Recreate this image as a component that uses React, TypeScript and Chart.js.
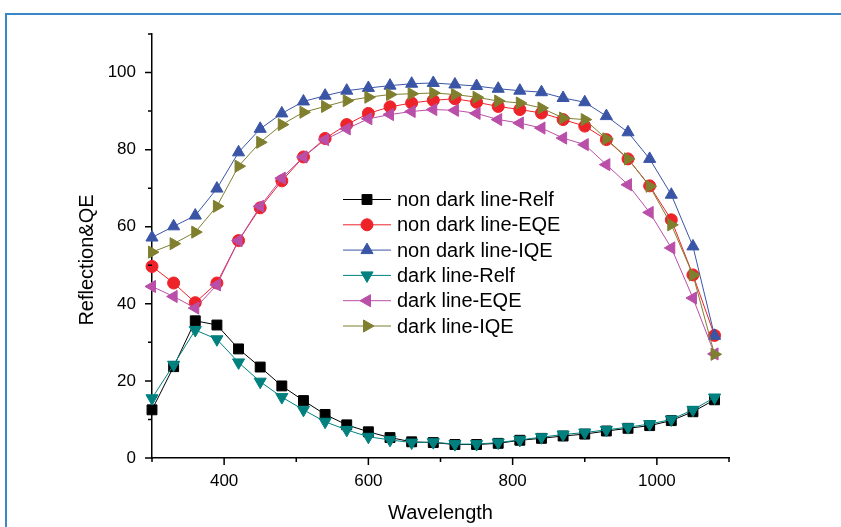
import React, { useEffect, useRef } from 'react';
import { Chart, registerables } from 'chart.js';

Chart.register(...registerables);

const wavelengths = [300, 330, 360, 390, 420, 450, 480, 510, 540, 570, 600, 630, 660, 690, 720, 750, 780, 810, 840, 870, 900, 930, 960, 990, 1020, 1050, 1080];

const nonDarkRelf = [12.5, 23.7, 35.6, 34.5, 28.3, 23.6, 18.7, 14.9, 11.3, 8.6, 6.8, 5.3, 4.2, 4.0, 3.5, 3.5, 3.8, 4.6, 5.1, 5.7, 6.2, 7.0, 7.7, 8.4, 9.7, 12.0, 15.1];
const nonDarkEQE = [49.7, 45.4, 40.3, 45.4, 56.4, 64.9, 71.9, 78.1, 82.9, 86.5, 89.4, 91.1, 92.1, 92.8, 93.2, 92.3, 91.2, 90.4, 89.5, 87.8, 86.1, 82.6, 77.6, 70.6, 61.8, 47.5, 31.8];
const nonDarkIQE = [57.2, 60.1, 62.9, 69.9, 79.3, 85.4, 89.4, 92.5, 94.0, 95.3, 96.0, 96.6, 97.1, 97.3, 96.9, 96.5, 95.8, 95.3, 94.9, 93.4, 92.3, 88.7, 84.5, 77.6, 68.3, 54.9, 31.7];
const darkRelf = [15.5, 24.2, 33.2, 30.8, 24.8, 19.8, 15.8, 12.5, 9.4, 7.3, 5.5, 4.7, 4.0, 4.1, 3.6, 3.6, 4.0, 4.7, 5.4, 6.1, 6.6, 7.3, 8.0, 8.8, 10.0, 12.5, 15.7];
const darkEQE = [44.5, 41.9, 38.9, 44.9, 56.4, 65.3, 72.6, 78.1, 82.6, 85.4, 88.0, 89.1, 89.9, 90.4, 90.2, 89.4, 87.8, 86.9, 85.6, 83.0, 81.3, 76.1, 70.9, 63.7, 54.5, 41.5, 27.0];
const darkIQE = [53.4, 55.6, 58.6, 65.3, 75.7, 81.9, 86.5, 89.7, 91.2, 92.7, 93.6, 94.3, 94.5, 94.7, 94.3, 93.6, 92.6, 92.1, 90.8, 88.2, 87.8, 82.8, 77.6, 70.5, 60.5, 47.5, 26.9];

const seriesNames = ['non dark line-Relf', 'non dark line-EQE', 'non dark line-IQE', 'dark line-Relf', 'dark line-EQE', 'dark line-IQE'];
const seriesValues = [nonDarkRelf, nonDarkEQE, nonDarkIQE, darkRelf, darkEQE, darkIQE];
const seriesColors = ['#000000', '#EE2229', '#3A55A5', '#00807F', '#B94FA8', '#7F7F2F'];
const seriesStyles = ['rect', 'circle', 'triangle', 'triangle', 'triangle', 'triangle'];
const seriesRotations = [0, 0, 0, 180, -90, 90];
const seriesRadius = [7, 6, 7, 7, 7, 7];

const xMajorTicks = [400, 600, 800, 1000];
const xMinorTicks = [300, 500, 700, 900, 1100];
const yMajorTicks = [0, 20, 40, 60, 80, 100];
const yMinorTicks = [10, 30, 50, 70, 90, 110];

const xTitle = 'Wavelength';
const yTitle = 'Reflection&QE';

const FONT = '"Liberation Sans", Arial, Helvetica, sans-serif';

function drawMarker(ctx: CanvasRenderingContext2D, style: string, x: number, y: number, r: number, rotDeg: number, color: string) {
  ctx.save();
  ctx.fillStyle = color;
  ctx.strokeStyle = color;
  ctx.lineWidth = 1;
  ctx.beginPath();
  if (style === 'rect') {
    const s = r * Math.SQRT1_2;
    ctx.rect(x - s, y - s, 2 * s, 2 * s);
  } else if (style === 'circle') {
    ctx.arc(x, y, r, 0, Math.PI * 2);
  } else {
    let rad = (rotDeg * Math.PI) / 180;
    ctx.moveTo(x + Math.sin(rad) * r, y - Math.cos(rad) * r);
    rad += (2 * Math.PI) / 3;
    ctx.lineTo(x + Math.sin(rad) * r, y - Math.cos(rad) * r);
    rad += (2 * Math.PI) / 3;
    ctx.lineTo(x + Math.sin(rad) * r, y - Math.cos(rad) * r);
    ctx.closePath();
  }
  ctx.fill();
  ctx.stroke();
  ctx.restore();
}

export default function App() {
  const ref = useRef<HTMLCanvasElement>(null);

  useEffect(() => {
    const decor = {
      id: 'decor',
      afterDraw(chart: any) {
        const ctx: CanvasRenderingContext2D = chart.ctx;
        const xs = chart.scales.x;
        const ys = chart.scales.y;
        const left = chart.chartArea.left;
        const bottom = chart.chartArea.bottom;
        ctx.save();
        ctx.strokeStyle = '#000';
        ctx.lineWidth = 1.5;
        ctx.beginPath();
        yMajorTicks.forEach((v) => {
          const p = ys.getPixelForValue(v);
          ctx.moveTo(left - 7, p);
          ctx.lineTo(left, p);
        });
        yMinorTicks.forEach((v) => {
          const p = ys.getPixelForValue(v);
          ctx.moveTo(left - 4, p);
          ctx.lineTo(left, p);
        });
        xMajorTicks.forEach((v) => {
          const p = xs.getPixelForValue(v);
          ctx.moveTo(p, bottom);
          ctx.lineTo(p, bottom + 7);
        });
        xMinorTicks.forEach((v) => {
          const p = xs.getPixelForValue(v);
          ctx.moveTo(p, bottom);
          ctx.lineTo(p, bottom + 4);
        });
        ctx.stroke();

        // axis titles
        ctx.fillStyle = '#000';
        ctx.font = '20px ' + FONT;
        ctx.textAlign = 'center';
        ctx.textBaseline = 'alphabetic';
        ctx.fillText(xTitle, (chart.chartArea.left + chart.chartArea.right) / 2, 519);
        ctx.save();
        ctx.translate(93, 260);
        ctx.rotate(-Math.PI / 2);
        ctx.fillText(yTitle, 0, 0);
        ctx.restore();

        // legend
        const lx0 = 343;
        const lx1 = 391;
        const ly0 = 199.5;
        const dy = 25.3;
        ctx.font = '20px ' + FONT;
        ctx.textAlign = 'left';
        ctx.textBaseline = 'middle';
        seriesNames.forEach((name, i) => {
          const y = ly0 + i * dy;
          ctx.strokeStyle = seriesColors[i];
          ctx.lineWidth = 1;
          ctx.beginPath();
          ctx.moveTo(lx0, y);
          ctx.lineTo(lx1, y);
          ctx.stroke();
          drawMarker(ctx, seriesStyles[i], (lx0 + lx1) / 2, y, seriesRadius[i], seriesRotations[i], seriesColors[i]);
          ctx.fillStyle = '#000';
          ctx.fillText(name, 397, y + 1);
        });
        ctx.restore();
      },
    };

    const chart = new Chart(ref.current as HTMLCanvasElement, {
      type: 'line',
      data: {
        datasets: seriesNames.map((name, i) => ({
          label: name,
          data: wavelengths.map((w, j) => ({ x: w, y: seriesValues[i][j] })),
          borderColor: seriesColors[i],
          backgroundColor: seriesColors[i],
          pointBackgroundColor: seriesColors[i],
          pointBorderColor: seriesColors[i],
          pointBorderWidth: 1,
          pointStyle: seriesStyles[i] as any,
          pointRotation: seriesRotations[i],
          pointRadius: seriesRadius[i],
          borderWidth: 1,
          tension: 0,
          fill: false,
          clip: false as any,
          order: 5 - i,
        })),
      },
      options: {
        animation: false,
        responsive: false,
        maintainAspectRatio: false,
        layout: { padding: { left: 0, top: 34, right: 112, bottom: 0 } },
        plugins: {
          legend: { display: false },
          tooltip: { enabled: false },
        },
        scales: {
          x: {
            type: 'linear',
            min: 300,
            max: 1100,
            afterBuildTicks: (s: any) => {
              s.ticks = xMajorTicks.map((v) => ({ value: v }));
            },
            afterFit: (s: any) => {
              s.height = 69;
            },
            grid: { display: false, drawTicks: false },
            border: { display: true, color: '#000', width: 1.5 },
            ticks: {
              color: '#000',
              padding: 13,
              maxRotation: 0,
              font: { family: FONT, size: 17 },
              callback: (v: any) => String(v),
            },
          },
          y: {
            type: 'linear',
            min: 0,
            max: 110,
            afterBuildTicks: (s: any) => {
              s.ticks = yMajorTicks.map((v) => ({ value: v }));
            },
            afterFit: (s: any) => {
              s.width = 152;
            },
            grid: { display: false, drawTicks: false },
            border: { display: true, color: '#000', width: 1.5 },
            ticks: {
              color: '#000',
              padding: 16,
              font: { family: FONT, size: 17 },
              callback: (v: any) => String(v),
            },
          },
        },
      },
      plugins: [decor],
    } as any);

    return () => chart.destroy();
  }, []);

  return (
    <div style={{ position: 'absolute', left: 0, top: 0, width: 841, height: 527, overflow: 'hidden', background: '#fff' }}>
      <div
        style={{
          position: 'absolute',
          left: 5,
          top: 13,
          width: 900,
          height: 600,
          borderTop: '2px solid #3A87C8',
          borderLeft: '2px solid #3A87C8',
        }}
      />
      <canvas ref={ref} width={841} height={527} style={{ position: 'absolute', left: 0, top: 0 }} />
    </div>
  );
}
